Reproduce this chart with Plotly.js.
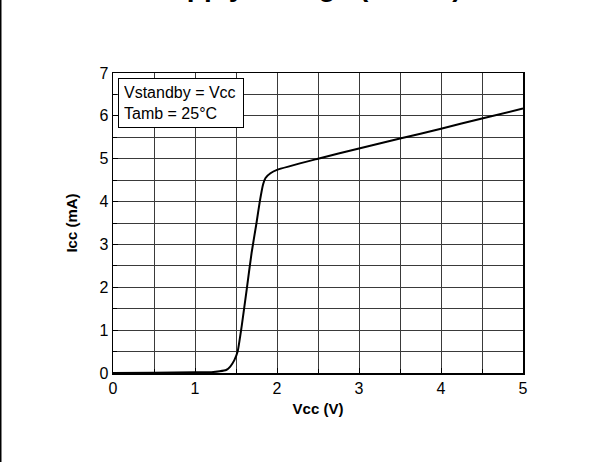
<!DOCTYPE html>
<html>
<head>
<meta charset="utf-8">
<script src="https://cdn.plot.ly/plotly-3.0.1.min.js"></script>
<style>html,body{margin:0;padding:0;background:#fff;}#chart{width:609px;height:462px;}</style>
</head>
<body>
<div id="chart"></div>
<script>
// Supply voltage (V)
const vcc = [0, 0.5, 1.0, 1.2, 1.3, 1.38, 1.43, 1.48, 1.52, 1.57, 1.63, 1.69, 1.75, 1.79, 1.83, 1.86, 1.92, 2.0, 2.5, 3.0, 3.5, 4.0, 4.5, 5.0];
// Supply current (mA)
const icc = [0, 0.005, 0.015, 0.02, 0.04, 0.07, 0.15, 0.3, 0.5, 1.1, 1.94, 2.8, 3.5, 4.0, 4.4, 4.55, 4.66, 4.74, 5.0, 5.24, 5.47, 5.7, 5.94, 6.17];
const xTicks = [0, 1, 2, 3, 4, 5];
const yTicks = [0, 1, 2, 3, 4, 5, 6, 7];
const titleText = "Supply Voltage (Active)";
const noteText = "Vstandby = Vcc<br>Tamb = 25°C";

const font = "Arial, 'Liberation Sans', sans-serif";
const trace = {
  x: vcc, y: icc, type: 'scatter', mode: 'lines',
  line: {color: '#000', width: 2, shape: 'spline', smoothing: 0.5},
  hoverinfo: 'skip', showlegend: false
};
const gridColor = '#3a3a3a';
const layout = {
  width: 609, height: 462,
  margin: {l: 113, r: 86, t: 73, b: 89},
  paper_bgcolor: '#fff', plot_bgcolor: '#fff',
  font: {family: font, color: '#000', size: 16},
  showlegend: false,
  xaxis: {
    range: [0, 5], tickvals: xTicks, ticktext: xTicks.map(String),
    showgrid: true, gridcolor: gridColor, gridwidth: 1,
    minor: {dtick: 0.5, tick0: 0, showgrid: true, gridcolor: gridColor, gridwidth: 1, ticks: 'inside', ticklen: 4, tickcolor: '#000'},
    ticks: 'inside', ticklen: 5, tickcolor: '#000',
    showline: true, mirror: true, linecolor: '#000', linewidth: 1.5,
    zeroline: false, fixedrange: true,
    tickfont: {size: 16, family: font},
    title: {text: 'Vcc (V)', font: {size: 15, family: font, weight: 'bold'}, standoff: 8}
  },
  yaxis: {
    range: [0, 7], tickvals: yTicks, ticktext: yTicks.map(String),
    showgrid: true, gridcolor: gridColor, gridwidth: 1,
    minor: {dtick: 0.5, tick0: 0, showgrid: true, gridcolor: gridColor, gridwidth: 1, ticks: 'inside', ticklen: 4, tickcolor: '#000'},
    ticks: 'inside', ticklen: 5, tickcolor: '#000',
    showline: true, mirror: true, linecolor: '#000', linewidth: 1.5,
    zeroline: false, fixedrange: true,
    tickfont: {size: 16, family: font},
    title: {text: 'Icc (mA)', font: {size: 15, family: font, weight: 'bold'}, standoff: 18}
  },
  annotations: [
    {
      text: titleText, xref: 'paper', yref: 'paper', x: 0.473, y: 1.229,
      xanchor: 'center', yanchor: 'bottom', showarrow: false,
      font: {size: 28, family: font, weight: 'bold', color: '#000'}
    },
    {
      text: noteText, xref: 'paper', yref: 'paper', x: 0.0122, y: 0.983,
      xanchor: 'left', yanchor: 'top', align: 'left', showarrow: false,
      bgcolor: '#fff', bordercolor: '#000', borderwidth: 1, borderpad: 5,
      width: 114,
      font: {size: 16, family: font, color: '#000'}
    }
  ],
  shapes: [
    {type: 'line', xref: 'paper', yref: 'paper', x0: -0.2744, x1: -0.2744, y0: -0.3, y1: 1.25,
     line: {color: '#000', width: 2}}
  ]
};
Plotly.newPlot('chart', [trace], layout, {staticPlot: true, displayModeBar: false});
</script>
</body>
</html>
